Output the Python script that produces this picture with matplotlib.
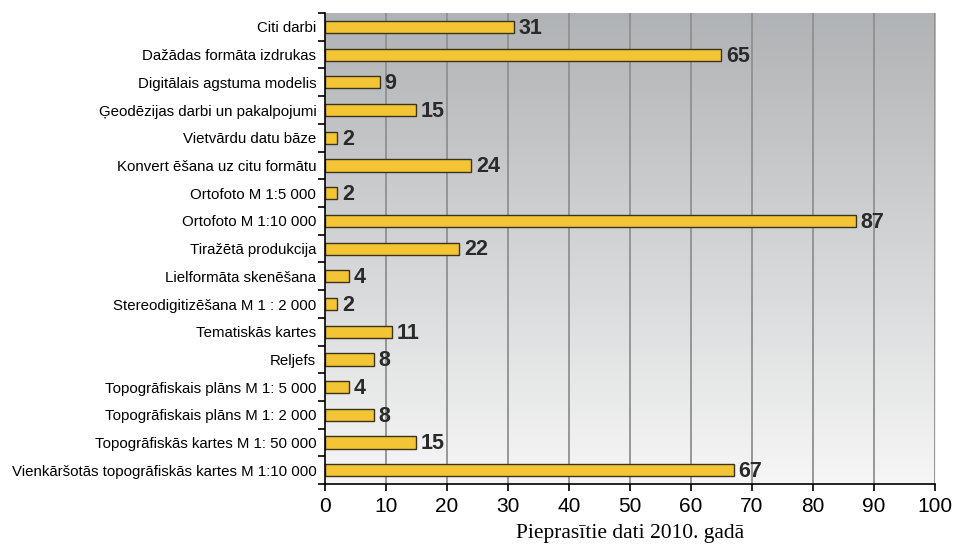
import numpy as np
import matplotlib.pyplot as plt
from matplotlib.ticker import FixedLocator, NullFormatter

# dati
kategorijas = [
    "Citi darbi",
    "Dažādas formāta izdrukas",
    "Digitālais agstuma modelis",
    "Ģeodēzijas darbi un pakalpojumi",
    "Vietvārdu datu bāze",
    "Konvert ēšana uz citu formātu",
    "Ortofoto M 1:5 000",
    "Ortofoto M 1:10 000",
    "Tiražētā produkcija",
    "Lielformāta skenēšana",
    "Stereodigitizēšana M 1 : 2 000",
    "Tematiskās kartes",
    "Reljefs",
    "Topogrāfiskais plāns M 1: 5 000",
    "Topogrāfiskais plāns M 1: 2 000",
    "Topogrāfiskās kartes M 1: 50 000",
    "Vienkāršotās topogrāfiskās kartes M 1:10 000",
]
vertibas = [31, 65, 9, 15, 2, 24, 2, 87, 22, 4, 2, 11, 8, 4, 8, 15, 67]
x_ticks = [0, 10, 20, 30, 40, 50, 60, 70, 80, 90, 100]

fig = plt.figure(figsize=(9.55, 5.44), dpi=100)
ax = fig.add_axes([0.340, 0.110, 0.639, 0.866])

n = len(kategorijas)
y = np.arange(n)

# fona gradients
grad = np.linspace(0, 1, 256).reshape(-1, 1)
top = np.array([0.69, 0.70, 0.71])
bot = np.array([0.965, 0.965, 0.965])
img = top + (bot - top) * grad[:, :, None] * np.ones((1, 1, 3))
ax.imshow(img, extent=[0, 100, n - 0.5, -0.5], aspect="auto", zorder=0)

for xv in x_ticks[1:]:
    ax.axvline(xv, color="#909090", lw=1.3, zorder=1)

ax.barh(y, vertibas, height=0.44, color="#f3c433", edgecolor="#3a3320",
        linewidth=1.0, zorder=2)

for yi, v in zip(y, vertibas):
    ax.text(v + 0.8, yi + 0.05, str(v), va="center", ha="left", fontsize=15.5,
            fontweight="bold", color="#2a2a2a", family="Liberation Sans", zorder=3)

ax.set_xlim(0, 100)
ax.set_ylim(n - 0.5, -0.5)

ax.set_yticks(y)
ax.set_yticklabels(kategorijas, family="Liberation Sans", fontsize=10.8)
ax.tick_params(axis="y", which="major", length=0, pad=6)
ax.yaxis.set_minor_locator(FixedLocator(np.arange(-0.5, n, 1)))
ax.yaxis.set_minor_formatter(NullFormatter())
ax.tick_params(axis="y", which="minor", length=5, width=1.2, direction="out")

ax.set_xticks(x_ticks)
ax.set_xticklabels([str(t) for t in x_ticks], family="Liberation Sans", fontsize=15)
ax.tick_params(axis="x", length=5, width=1.2, direction="out", pad=4)

for s in ["top", "right"]:
    ax.spines[s].set_visible(False)
for s in ["left", "bottom"]:
    ax.spines[s].set_linewidth(1.2)
    ax.spines[s].set_color("black")

ax.set_xlabel("Pieprasītie dati 2010. gadā", family="Liberation Serif",
              fontsize=15.5, labelpad=6)

fig.savefig("out.png", dpi=100)
